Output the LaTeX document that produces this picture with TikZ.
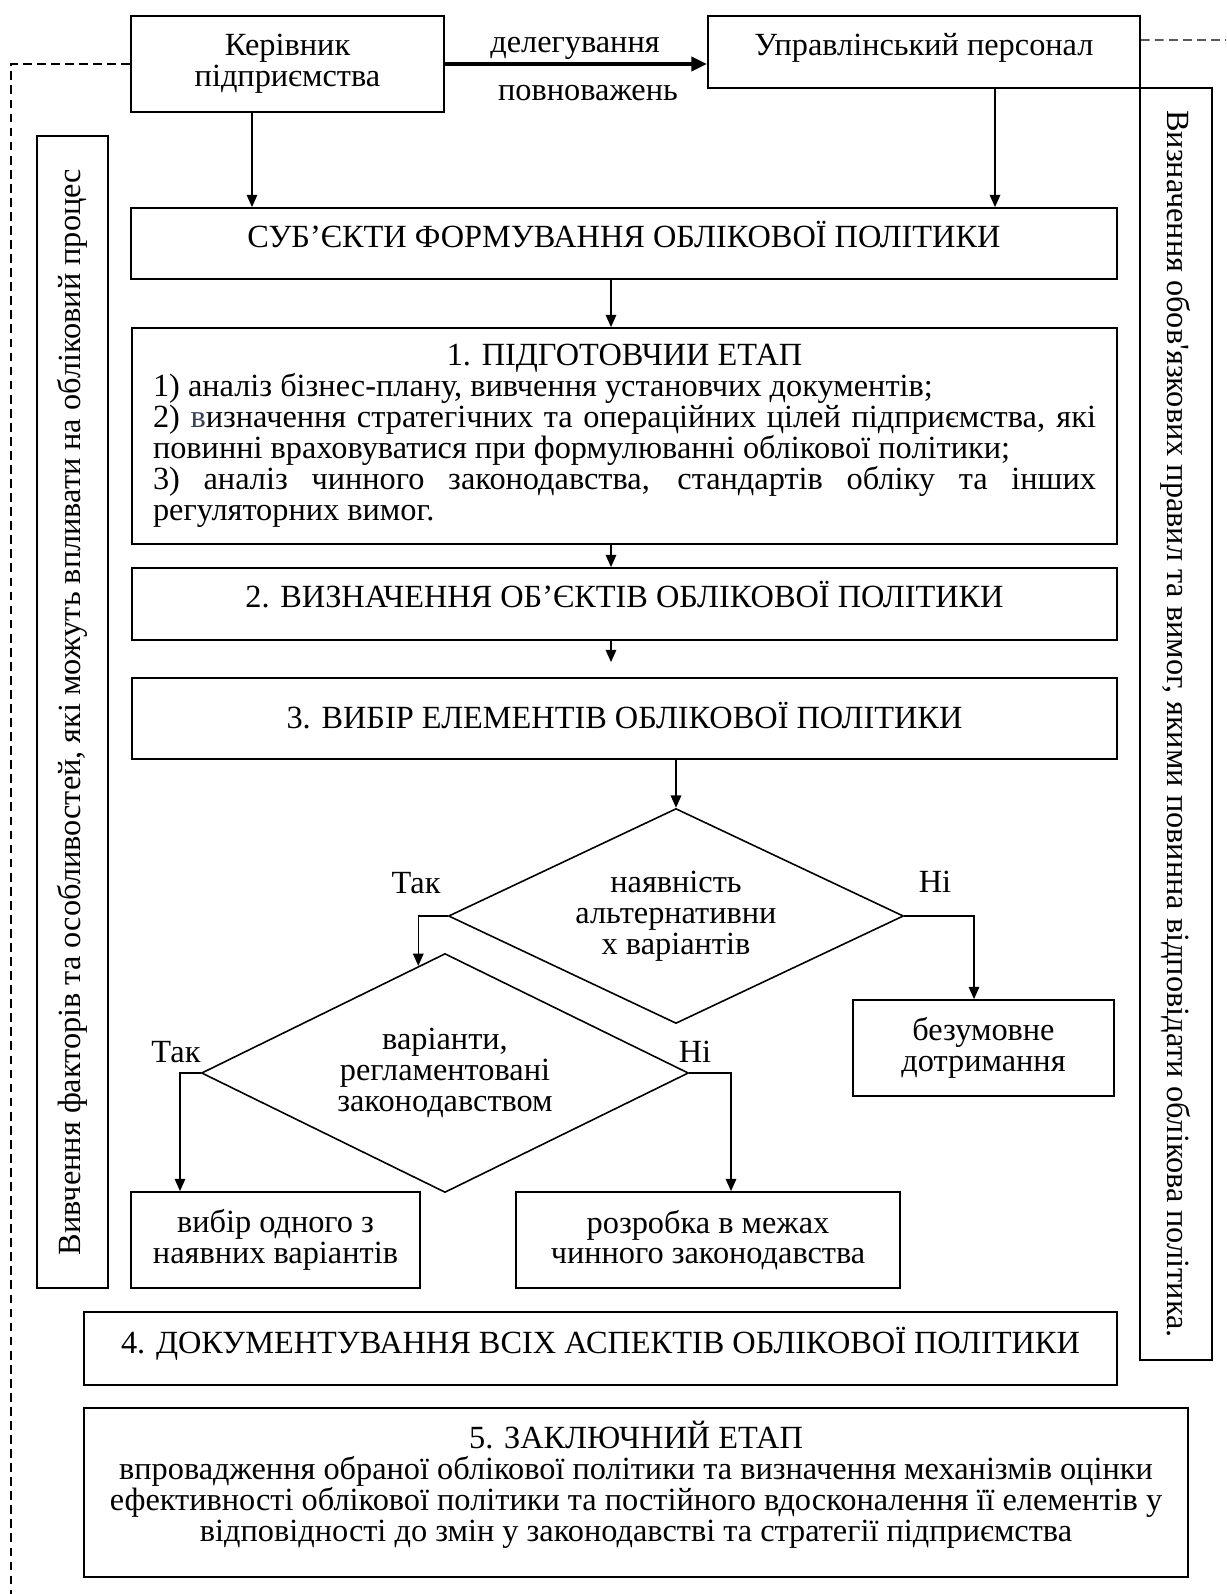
\documentclass[tikz,border=0pt]{standalone}
\usepackage{fontspec}
\setmainfont{Liberation Serif}
\usetikzlibrary{shapes.geometric,arrows.meta}
\definecolor{slateblue}{RGB}{55,65,90}

\begin{document}
\begin{tikzpicture}[>={Triangle[length=7pt,width=6pt]},
    every node/.style={font=\fontsize{18.4}{17.6}\selectfont},
    box/.style={draw,line width=1pt,inner sep=0pt,align=center},
    rombus/.style={draw,diamond,aspect=2,line width=0.9pt,inner sep=0pt,align=center},
    conn/.style={line width=0.9pt},
    dashline/.style={dash pattern=on 5pt off 3pt,line width=0.6pt}]
    \useasboundingbox (0cm,0cm) rectangle (24.52cm,-31.88cm);
    \node[box, minimum width=6.26cm, minimum height=1.92cm] (kerivnyk) at (5.75cm,-1.28cm) {Керівник\\підприємства};
    \node[box, minimum width=8.64cm, minimum height=1.44cm, text depth=0.30cm] (upravl) at (18.48cm,-1.04cm) {Управлінський персонал};
    \node (delegtop) at (11.50cm,-0.96cm) {делегування};
    \node (delegbot) at (11.76cm,-1.86cm) {повноважень};
    \node[box, minimum width=19.72cm, minimum height=1.42cm, text depth=0.36cm] (subjects) at (12.48cm,-4.87cm) {СУБ’ЄКТИ ФОРМУВАННЯ ОБЛІКОВОЇ ПОЛІТИКИ};
    \node[box, minimum width=19.70cm, minimum height=4.32cm, text width=18.86cm, align=justify] (stage1) at (12.49cm,-8.72cm) {\centerline{1. ПІДГОТОВЧИИ ЕТАП}
        1) аналіз бізнес-плану, вивчення установчих документів;\par
        2) {\color{slateblue}в}изначення стратегічних та операційних цілей підприємства, які\linebreak повинні враховуватися при формулюванні облікової політики;\par
        3) аналіз чинного законодавства, стандартів обліку та інших\linebreak регуляторних вимог.};
    \node[box, minimum width=19.70cm, minimum height=1.44cm, text depth=0.40cm] (stage2) at (12.49cm,-12.08cm) {2. ВИЗНАЧЕННЯ ОБ’ЄКТІВ ОБЛІКОВОЇ ПОЛІТИКИ};
    \node[box, minimum width=19.70cm, minimum height=1.62cm, text depth=0.12cm] (stage3) at (12.49cm,-14.37cm) {3. ВИБІР ЕЛЕМЕНТІВ ОБЛІКОВОЇ ПОЛІТИКИ};
    \node[rombus, minimum width=9.10cm, minimum height=4.30cm] (d1) at (13.52cm,-18.32cm) {наявність\\альтернативни\\х варіантів};
    \node[rombus, minimum width=9.74cm, minimum height=4.78cm] (d2) at (8.90cm,-21.46cm) {варіанти,\\регламентовані\\законодавством};
    \node[box, minimum width=5.22cm, minimum height=1.92cm] (uncond) at (19.67cm,-20.96cm) {безумовне\\дотримання};
    \node[box, minimum width=5.78cm, minimum height=1.92cm] (choose) at (5.51cm,-24.80cm) {вибір одного з\\наявних варіантів};
    \node[box, minimum width=7.68cm, minimum height=1.92cm] (develop) at (14.16cm,-24.80cm) {розробка в межах\\чинного законодавства};
    \node[box, minimum width=20.66cm, minimum height=1.46cm, text depth=0.33cm] (stage4) at (12.01cm,-26.97cm) {4. ДОКУМЕНТУВАННЯ ВСІХ АСПЕКТІВ ОБЛІКОВОЇ ПОЛІТИКИ};
    \node[box, minimum width=22.08cm, minimum height=3.38cm, text depth=0.46cm] (stage5) at (12.72cm,-29.85cm) {5. ЗАКЛЮЧНИЙ ЕТАП\\впровадження обраної облікової політики та визначення механізмів оцінки\\ефективності облікової політики та постійного вдосконалення її елементів у\\відповідності до змін у законодавстві та стратегії підприємства};
    \node[box, rotate=90, minimum width=23.04cm, minimum height=1.42cm] (factors) at (1.45cm,-14.24cm) {Вивчення факторів та особливостей, які можуть впливати на обліковий процес};
    \node[box, rotate=-90, minimum width=25.44cm, minimum height=1.44cm] (rules) at (23.52cm,-14.48cm) {Визначення обов{\addfontfeature{Ligatures=TeXOff}'}язкових правил та вимог, якими повинна відповідати облікова політика.};
    \node (yes1) at (8.32cm,-17.66cm) {Так};
    \node (no1) at (18.70cm,-17.64cm) {Ні};
    \node (yes2) at (3.52cm,-21.04cm) {Так};
    \node (no2) at (13.90cm,-21.04cm) {Ні};
    \coordinate (axis) at (12.22cm,0cm);
    \coordinate (dashleft) at (0.22cm,-31.88cm);
    \coordinate (dashright) at (24.52cm,-0.80cm);
    \draw[-{Triangle[length=9pt,width=8pt]}, line width=2.2pt] (kerivnyk.east) -- (kerivnyk.east -| upravl.west);
    \draw[conn,->] ([xshift=-0.71cm]kerivnyk.south) -- ([xshift=-0.71cm]kerivnyk.south |- subjects.north);
    \draw[conn,->] ([xshift=1.42cm]upravl.south) -- ([xshift=1.42cm]upravl.south |- subjects.north);
    \draw[conn,->] (subjects.south -| axis) -- (stage1.north -| axis);
    \draw[conn,->] (stage1.south -| axis) -- (stage2.north -| axis);
    \draw[conn,->, shorten >=0.3cm] (stage2.south -| axis) -- (stage3.north -| axis);
    \draw[conn,->] (stage3.south -| d1.north) -- (d1.north);
    \draw[conn,->] (d1.west) -| (d2.104);
    \draw[conn,->] (d1.east) -| ([xshift=-0.19cm]uncond.north);
    \draw[conn,->] (d2.west) -| ([xshift=-1.91cm]choose.north);
    \draw[conn,->] (d2.east) -| ([xshift=0.46cm]develop.north);
    \draw[dashline] (kerivnyk.west) -| (dashleft);
    \draw[dashline] ([yshift=0.24cm]upravl.east) -- (dashright);
  \end{tikzpicture}
\end{document}
